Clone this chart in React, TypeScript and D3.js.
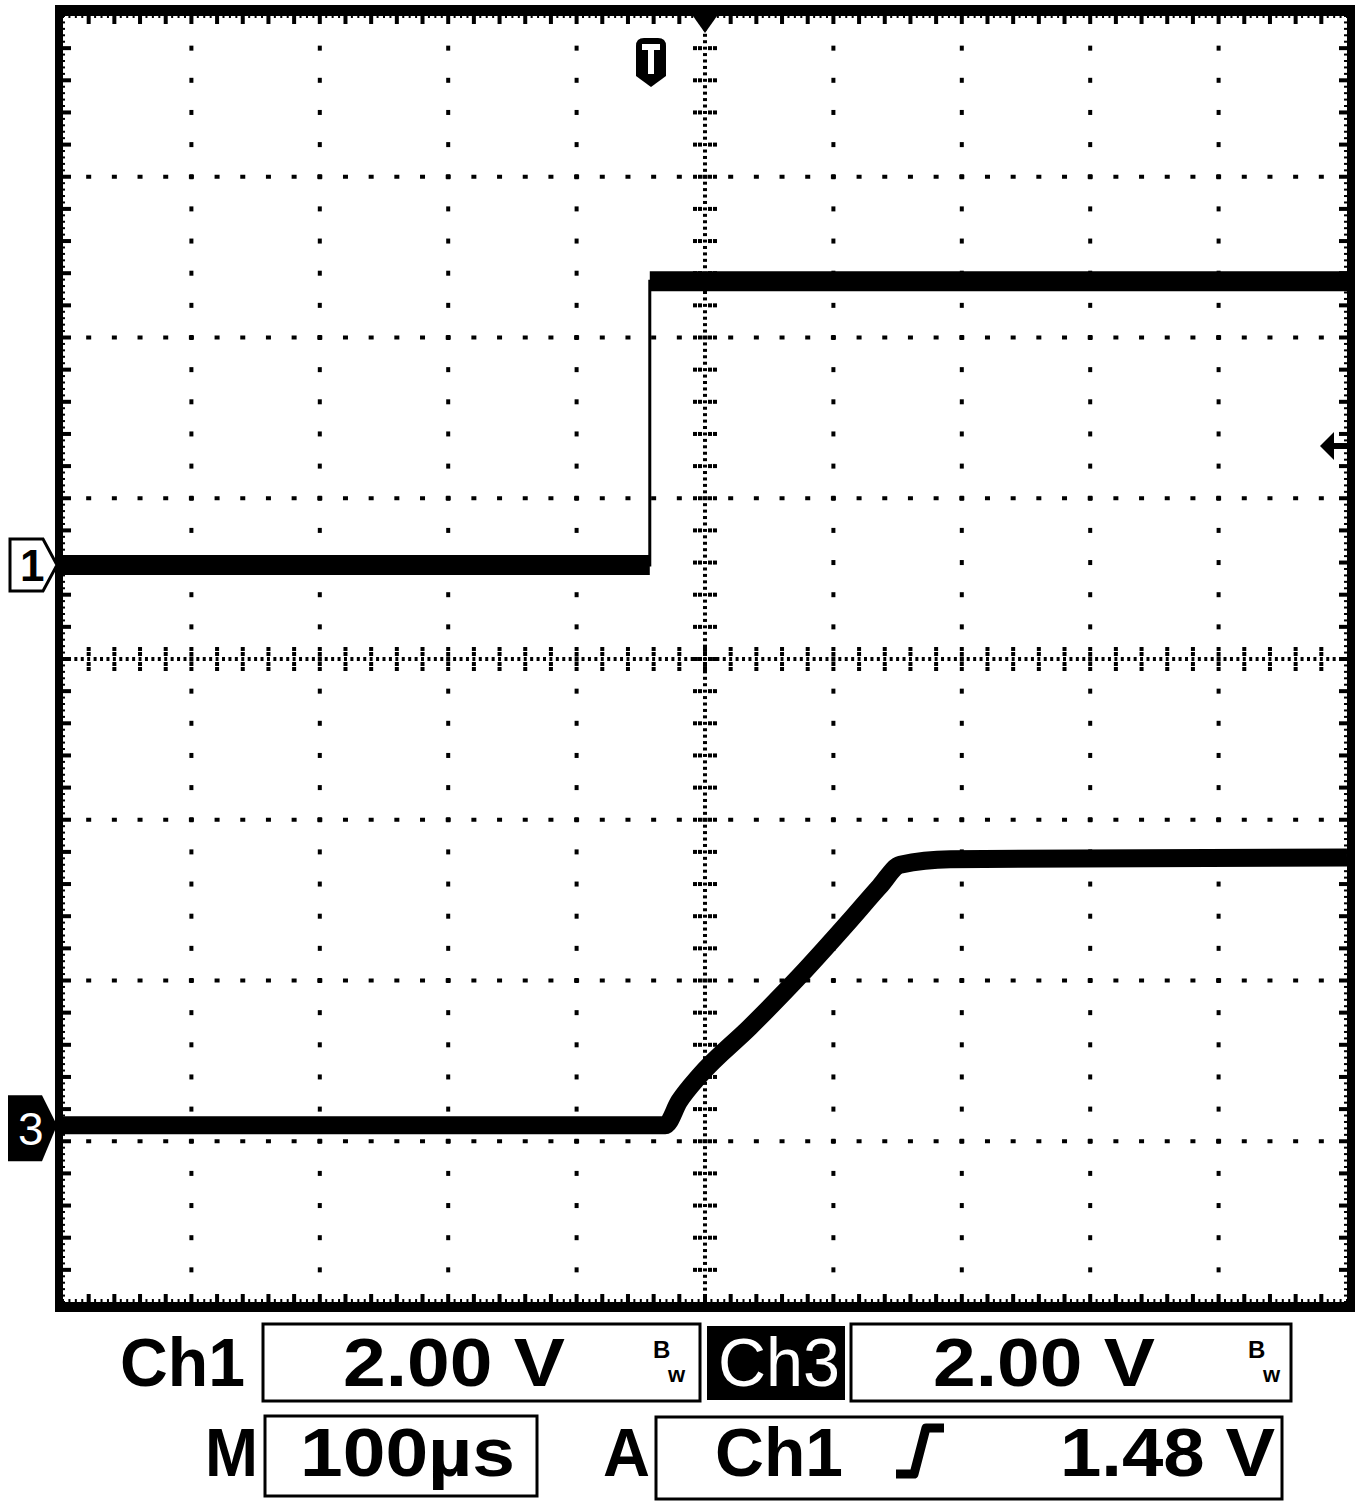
import React from "react";
import * as d3 from "d3";

// ---- data (read from the scope screen) ----
// time in µs (100 µs/div, trigger at centre), volts (2 V/div)
const ch1Time = [-500, -43, -43, 500];
const ch1Volts = [0.0, 0.0, 3.53, 3.53];
const ch3Time = [-500, -31, -20, -4, 35, 74, 113, 136, 152, 191, 500];
const ch3Volts = [0.0, 0.0, 0.3, 0.62, 1.22, 1.86, 2.55, 2.97, 3.24, 3.31, 3.33];
const ch1OffsetDiv = 0.585;
const ch3OffsetDiv = -2.9;
const triggerLevel = 1.48;
const voltsPerDiv = 2;
const readoutRow1 = ["Ch1", "2.00 V", "Ch3", "2.00 V"];
const readoutRow2 = ["M", "100µs", "A", "Ch1", "1.48 V"];

const W = 1362, H = 1506;
const L = 63, R = 1347, T = 16, B = 1302;

export default function App() {
  const x = d3.scaleLinear().domain([-500, 500]).range([L, R]);
  const yDiv = d3.scaleLinear().domain([-4, 4]).range([B, T]);
  const y1 = (v: number) => yDiv(v / voltsPerDiv + ch1OffsetDiv);
  const y3 = (v: number) => yDiv(v / voltsPerDiv + ch3OffsetDiv);

  const dots: JSX.Element[] = [];
  let key = 0;
  // vertical grid lines
  for (let k = -4; k <= 4; k++) {
    if (k === 0) continue;
    const gx = x(k * 100);
    for (let m = -20; m <= 20; m++) {
      const gy = yDiv(m / 5);
      if (gy <= T + 2 || gy >= B - 2) continue;
      dots.push(<rect key={key++} x={gx - 2} y={gy - 2.5} width={4} height={5} />);
    }
  }
  // horizontal grid lines
  for (let k = -3; k <= 3; k++) {
    if (k === 0) continue;
    const gy = yDiv(k);
    for (let m = -25; m <= 25; m++) {
      const gx = x(m * 20);
      if (gx <= L + 2 || gx >= R - 2) continue;
      dots.push(<rect key={key++} x={gx - 2.5} y={gy - 2} width={5} height={4} />);
    }
  }
  // centre lines, dense dots + cross ticks
  const cx = x(0), cy = yDiv(0);
  for (let m = -100; m <= 100; m++) {
    const gx = x(m * 5);
    if (gx <= L + 1 || gx >= R - 1) continue;
    dots.push(<rect key={key++} x={gx - 1.5} y={cy - 2} width={3} height={4} />);
  }
  for (let m = -100; m <= 100; m++) {
    const gy = yDiv(m / 25);
    if (gy <= T + 1 || gy >= B - 1) continue;
    dots.push(<rect key={key++} x={cx - 2} y={gy - 1.5} width={4} height={3} />);
  }
  for (let m = -25; m <= 25; m++) {
    const gx = x(m * 20);
    if (gx <= L + 2 || gx >= R - 2) continue;
    for (const o of [-10, -5, 5, 10]) dots.push(<rect key={key++} x={gx - 2} y={cy + o - 2} width={4} height={4} />);
  }
  for (let m = -20; m <= 20; m++) {
    const gy = yDiv(m / 5);
    if (gy <= T + 2 || gy >= B - 2) continue;
    for (const o of [-10, -5, 5, 10]) dots.push(<rect key={key++} x={cx + o - 2} y={gy - 2} width={4} height={4} />);
  }
  // border ticks
  for (let m = -25; m <= 25; m++) {
    const gx = x(m * 20);
    if (gx <= L + 2 || gx >= R - 2) continue;
    dots.push(<rect key={key++} x={gx - 2} y={T} width={4} height={8} />);
    dots.push(<rect key={key++} x={gx - 2} y={B - 8} width={4} height={8} />);
  }
  for (let m = -20; m <= 20; m++) {
    const gy = yDiv(m / 5);
    if (gy <= T + 2 || gy >= B - 2) continue;
    dots.push(<rect key={key++} x={L} y={gy - 2} width={8} height={4} />);
    dots.push(<rect key={key++} x={R - 8} y={gy - 2} width={8} height={4} />);
  }
  for (let m = -100; m <= 100; m++) {
    const gx = x(m * 5);
    dots.push(<rect key={key++} x={gx - 1} y={B - 3} width={2} height={3} />);
    dots.push(<rect key={key++} x={gx - 1} y={T} width={2} height={2} />);
    const gy = yDiv(m / 25);
    dots.push(<rect key={key++} x={R - 3} y={gy - 1} width={3} height={2} />);
    dots.push(<rect key={key++} x={L} y={gy - 1} width={2} height={2} />);
  }

  const pts1 = ch1Time.map((t, i) => [t, ch1Volts[i]] as [number, number]);
  const pts3 = ch3Time.map((t, i) => [t, ch3Volts[i]] as [number, number]);
  const band = d3.area<[number, number]>()
    .x((d) => x(d[0]))
    .y0((d) => y1(d[1]) + 10)
    .y1((d) => y1(d[1]) - 10);
  const line1 = d3.line<[number, number]>().x((d) => x(d[0])).y((d) => y1(d[1]));
  const line3 = d3.line<[number, number]>().x((d) => x(d[0])).y((d) => y3(d[1])).curve(d3.curveMonotoneX);

  const g1 = y1(0), g3 = y3(0), trigY = y1(triggerLevel);
  const font = "'Liberation Sans Narrow', 'Liberation Sans', Arial, sans-serif";

  const bw = (bx: number) => (
    <g>
      <text x={bx} y={1358} fontFamily={font} fontWeight="bold" fontSize={24}>B</text>
      <text x={bx + 15} y={1382} fontFamily={font} fontWeight="bold" fontSize={22}>w</text>
    </g>
  );

  return (
    <svg width={W} height={H} style={{ position: "absolute", left: 0, top: 0, background: "#fff" }}>
      <rect x={0} y={0} width={W} height={H} fill="#fff" />
      {/* frame */}
      <rect x={55} y={5} width={1300} height={1307} fill="#000" />
      <rect x={L} y={T} width={R - L} height={B - T} fill="#fff" />
      <g fill="#000">{dots}</g>

      {/* traces */}
      <path d={band(pts1) || ""} fill="#000" />
      <path d={line1(pts1) || ""} fill="none" stroke="#000" strokeWidth={3} />
      <path d={line3(pts3) || ""} fill="none" stroke="#000" strokeWidth={18} strokeLinejoin="round" />

      {/* trigger position marker */}
      <path d={`M${cx - 12},${T} L${cx + 12},${T} L${cx},${T + 17} Z`} fill="#000" />
      <path d="M636,46 Q636,38 644,38 L658,38 Q666,38 666,46 L666,76 L651,87 L636,76 Z" fill="#000" />
      <path d="M642,44 L660,44 L660,50 L654,50 L654,74 L648,74 L648,50 L642,50 Z" fill="#fff" />

      {/* trigger level arrow */}
      <path d={`M${1320},${trigY} L${1334},${trigY - 14} L${1334},${trigY + 14} Z`} fill="#000" />
      <rect x={1332} y={trigY - 3} width={R - 1332} height={6} fill="#000" />

      {/* channel markers */}
      <path d={`M10,${g1 - 26} L43,${g1 - 26} L57,${g1} L43,${g1 + 26} L10,${g1 + 26} Z`} fill="#fff" stroke="#000" strokeWidth={3} />
      <text x={20} y={g1 + 16} fontFamily={font} fontWeight="bold" fontSize={44}>1</text>
      <path d={`M8,${g3 - 30} L42,${g3 - 30} L57,${g3} L42,${g3 + 36} L8,${g3 + 36} Z`} fill="#000" />
      <text x={18} y={g3 + 20} fontFamily={font} fontSize={46} fill="#fff">3</text>

      {/* readouts row 1 */}
      <text x={120} y={1386} fontFamily={font} fontWeight="bold" fontSize={68} textLength={125} lengthAdjust="spacingAndGlyphs">{readoutRow1[0]}</text>
      <rect x={263} y={1324} width={437} height={77} fill="none" stroke="#000" strokeWidth={3} />
      <text x={343} y={1386} fontFamily={font} fontWeight="bold" fontSize={68} textLength={222} lengthAdjust="spacingAndGlyphs">{readoutRow1[1]}</text>
      {bw(653)}
      <rect x={707} y={1326} width={138} height={74} fill="#000" />
      <text x={718} y={1386} fontFamily={font} fontSize={68} fill="#fff" textLength={122} lengthAdjust="spacingAndGlyphs">{readoutRow1[2]}</text>
      <rect x={851} y={1324} width={440} height={77} fill="none" stroke="#000" strokeWidth={3} />
      <text x={933} y={1386} fontFamily={font} fontWeight="bold" fontSize={68} textLength={222} lengthAdjust="spacingAndGlyphs">{readoutRow1[3]}</text>
      {bw(1248)}

      {/* readouts row 2 */}
      <text x={205} y={1476} fontFamily={font} fontWeight="bold" fontSize={68} textLength={53} lengthAdjust="spacingAndGlyphs">{readoutRow2[0]}</text>
      <rect x={265} y={1416} width={272} height={80} fill="none" stroke="#000" strokeWidth={3} />
      <text x={300} y={1476} fontFamily={font} fontWeight="bold" fontSize={68} textLength={215} lengthAdjust="spacingAndGlyphs">{readoutRow2[1]}</text>
      <text x={603} y={1476} fontFamily={font} fontWeight="bold" fontSize={68} textLength={47} lengthAdjust="spacingAndGlyphs">{readoutRow2[2]}</text>
      <rect x={656} y={1417} width={626} height={82} fill="none" stroke="#000" strokeWidth={3} />
      <text x={715} y={1476} fontFamily={font} fontWeight="bold" fontSize={68} textLength={128} lengthAdjust="spacingAndGlyphs">{readoutRow2[3]}</text>
      <path d="M896,1474 L914,1474 L926,1428 L944,1428" fill="none" stroke="#000" strokeWidth={9} strokeLinejoin="round" />
      <text x={1060} y={1476} fontFamily={font} fontWeight="bold" fontSize={68} textLength={215} lengthAdjust="spacingAndGlyphs">{readoutRow2[4]}</text>
    </svg>
  );
}
